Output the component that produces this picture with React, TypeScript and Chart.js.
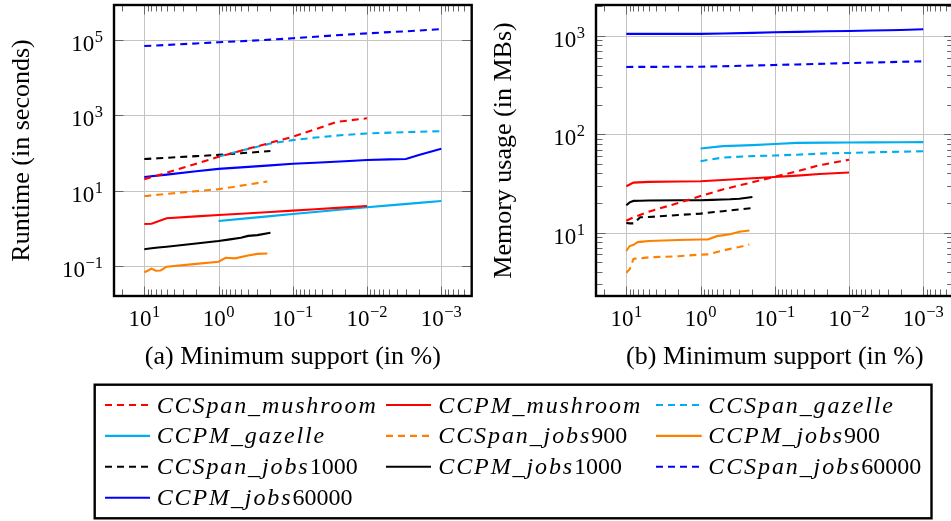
import React, { useEffect, useRef } from "react";
import { Chart, registerables } from "chart.js";
Chart.register(...registerables);

// ---- data: minimum support (%) per dataset ----
const supportMushroom = [10, 8, 5, 2, 1, 0.5, 0.2, 0.1, 0.05, 0.025, 0.01];
const supportGazelle = [1, 0.5, 0.2, 0.1, 0.05, 0.02, 0.01, 0.005, 0.002, 0.001];
const supportJobs900 = [10, 9, 8, 7, 6, 5, 2, 1, 0.8, 0.6, 0.4, 0.3, 0.22];
const supportJobs1000 = [10, 9, 8, 6.5, 5, 2, 1, 0.7, 0.5, 0.4, 0.3, 0.2];
const supportJobs60000 = [10, 5, 2, 1, 0.5, 0.2, 0.1, 0.05, 0.02, 0.01, 0.005, 0.003, 0.002, 0.001];

// ---- runtime (seconds) ----
const rtCCSpanMushroom = [20, 22.8, 30, 52, 79, 115, 187, 270, 425, 675, 835];
const rtCCPMMushroom = [1.3, 1.33, 1.86, 2.08, 2.27, 2.45, 2.72, 2.96, 3.21, 3.5, 3.93];
const rtCCSpanGazelle = [80, 115, 178, 220, 257, 302, 330, 347, 367, 380];
const rtCCPMGazelle = [1.57, 1.78, 2.11, 2.4, 2.72, 3.2, 3.63, 4.07, 4.75, 5.3];
const rtCCSpanJobs900 = [7.2, 7.27, 7.5, 7.7, 7.9, 8.2, 9.7, 11, 11.75, 12.8, 14.6, 15.9, 17.5];
const rtCCPMJobs900 = [0.068, 0.075, 0.085, 0.075, 0.076, 0.096, 0.114, 0.13, 0.165, 0.16, 0.19, 0.21, 0.215];
const rtCCSpanJobs1000 = [69, 70, 71, 72.5, 74.7, 82.6, 89, 93.8, 98.4, 101.6, 106, 113];
const rtCCPMJobs1000 = [0.28, 0.288, 0.295, 0.31, 0.326, 0.395, 0.46, 0.51, 0.56, 0.63, 0.66, 0.76];
const rtCCSpanJobs60000 = [69000, 74000, 81000, 87000, 93000, 102000, 111000, 122000, 138000, 150000, 162000, 170000, 178000, 195000];
const rtCCPMJobs60000 = [23, 26.7, 32.7, 38, 41.6, 46.9, 52, 55, 60.3, 65, 67.6, 69, 89, 130];

// ---- memory usage (MBs) ----
const memCCSpanMushroom = [13.2, 14.3, 16.3, 20, 23.5, 27.5, 32.5, 37, 42, 48.5, 55];
const memCCPMMushroom = [29.6, 32.2, 32.8, 33.1, 33.3, 34.3, 35.7, 36.8, 38, 39.4, 40.8];
const memCCSpanGazelle = [53.2, 58, 60, 60.8, 62, 64, 64.6, 65.5, 66.5, 67.3];
const memCCPMGazelle = [71.6, 75.7, 77.5, 79.5, 81.7, 82.3, 82.6, 82.8, 83, 83.2];
const memCCSpanJobs900 = [3.9, 4.25, 5.4, 5.5, 5.5, 5.6, 5.75, 5.97, 6.0, 6.34, 6.83, 7.15, 7.55];
const memCCPMJobs900 = [6.5, 7.3, 7.5, 8.0, 8.1, 8.2, 8.4, 8.5, 8.5, 9.2, 9.6, 10.2, 10.5];
const memCCSpanJobs1000 = [12.5, 12.4, 12.4, 14.3, 14.4, 15.1, 15.6, 16.1, 16.5, 16.8, 17.2, 17.8];
const memCCPMJobs1000 = [19, 20.3, 21, 21.1, 21.2, 21.3, 21.3, 21.5, 21.7, 21.8, 22.1, 23];
const memCCSpanJobs60000 = [484, 485, 486, 487, 492, 500, 507, 513, 523, 530, 537, 541, 546, 552];
const memCCPMJobs60000 = [1050, 1050, 1050, 1050, 1060, 1075, 1090, 1100, 1115, 1125, 1135, 1142, 1150, 1170];

// ---- tick labels (powers of ten) ----
const xTickExps = [1, 0, -1, -2, -3];
const rtTickExps = [-1, 1, 3, 5];
const memTickExps = [1, 2, 3];

const seriesNames = [
  "CCSpan_mushroom", "CCPM_mushroom", "CCSpan_gazelle", "CCPM_gazelle",
  "CCSpan_jobs900", "CCPM_jobs900", "CCSpan_jobs1000", "CCPM_jobs1000",
  "CCSpan_jobs60000", "CCPM_jobs60000",
];

// ---- styles ----
const RED = "#ff0000";
const CYAN = "#00aeef";
const ORANGE = "#ff8000";
const BLACK = "#000000";
const BLUE = "#0000ff";
const seriesColors = [RED, RED, CYAN, CYAN, ORANGE, ORANGE, BLACK, BLACK, BLUE, BLUE];
const seriesDashed = [true, false, true, false, true, false, true, false, true, false];
const DASH = [7, 5];
const LINE_W = 2.1;
const GRID = "#c4c4c4";
const TICKC = "#666666";
const FONT = '"Liberation Serif", "DejaVu Serif", serif';
const TICK_FONT = 23;
const SUP_FONT = 16.5;
const SUP_RAISE = 9;
const TITLE_FONT = 26;

const X_MIN = Math.pow(10, -3.41);
const X_MAX = Math.pow(10, 1.408);

const runtimeX = [supportMushroom, supportMushroom, supportGazelle, supportGazelle, supportJobs900, supportJobs900, supportJobs1000, supportJobs1000, supportJobs60000, supportJobs60000];
const runtimeY = [rtCCSpanMushroom, rtCCPMMushroom, rtCCSpanGazelle, rtCCPMGazelle, rtCCSpanJobs900, rtCCPMJobs900, rtCCSpanJobs1000, rtCCPMJobs1000, rtCCSpanJobs60000, rtCCPMJobs60000];
const memoryY = [memCCSpanMushroom, memCCPMMushroom, memCCSpanGazelle, memCCPMGazelle, memCCSpanJobs900, memCCPMJobs900, memCCSpanJobs1000, memCCPMJobs1000, memCCSpanJobs60000, memCCPMJobs60000];

function buildDatasets(ys: number[][]) {
  return seriesNames.map((name, i) => ({
    label: name,
    data: runtimeX[i].map((x, j) => ({ x, y: ys[i][j] })),
    borderColor: seriesColors[i],
    backgroundColor: seriesColors[i],
    borderWidth: LINE_W,
    borderDash: seriesDashed[i] ? DASH : [],
    borderCapStyle: "butt",
    pointRadius: 0,
    fill: false,
    tension: 0,
  }));
}

function drawPow(ctx: CanvasRenderingContext2D, e: number, x: number, y: number, align: "center" | "right") {
  const base = "10";
  const sup = e < 0 ? "\u2212" + Math.abs(e) : String(e);
  ctx.font = `${TICK_FONT}px ${FONT}`;
  const wb = ctx.measureText(base).width;
  ctx.font = `${SUP_FONT}px ${FONT}`;
  const ws = ctx.measureText(sup).width;
  const gap = 0.5;
  const total = wb + gap + ws;
  const x0 = align === "center" ? x - total / 2 : x - total;
  ctx.textAlign = "left";
  ctx.textBaseline = "alphabetic";
  ctx.fillStyle = "#000";
  ctx.font = `${TICK_FONT}px ${FONT}`;
  ctx.fillText(base, x0, y);
  ctx.font = `${SUP_FONT}px ${FONT}`;
  ctx.fillText(sup, x0 + wb + gap, y - SUP_RAISE);
}

function minorValues(lo: number, hi: number) {
  const out: number[] = [];
  for (let d = -5; d <= 5; d++) {
    for (let k = 2; k <= 9; k++) {
      const v = k * Math.pow(10, d);
      if (v >= lo && v <= hi) out.push(v);
    }
  }
  return out;
}

interface AxesOpts {
  yExps: number[];
  yMinor: boolean;
  yTitle: string;
  xTitle: string;
  yTitleX: number;
}

function makeAxesPlugin(p: AxesOpts) {
  const MINOR = 6.5;
  const MAJOR = 9.5;
  return {
    id: "pgfAxes",
    beforeDatasetsDraw(chart: any) {
      const { ctx, chartArea: a } = chart;
      const xs = chart.scales.x;
      const ys = chart.scales.y;
      ctx.save();
      ctx.strokeStyle = GRID;
      ctx.lineWidth = 1;
      ctx.beginPath();
      for (const e of xTickExps) {
        const px = Math.round(xs.getPixelForValue(Math.pow(10, e))) + 0.5;
        ctx.moveTo(px, a.top);
        ctx.lineTo(px, a.bottom);
      }
      for (const e of p.yExps) {
        const py = Math.round(ys.getPixelForValue(Math.pow(10, e))) + 0.5;
        ctx.moveTo(a.left, py);
        ctx.lineTo(a.right, py);
      }
      ctx.stroke();
      ctx.restore();
    },
    afterDraw(chart: any) {
      const { ctx, chartArea: a } = chart;
      const xs = chart.scales.x;
      const ys = chart.scales.y;
      ctx.save();
      ctx.strokeStyle = TICKC;
      ctx.lineWidth = 1;
      ctx.beginPath();
      for (const v of minorValues(X_MIN, X_MAX)) {
        const px = Math.round(xs.getPixelForValue(v)) + 0.5;
        ctx.moveTo(px, a.bottom);
        ctx.lineTo(px, a.bottom - MINOR);
        ctx.moveTo(px, a.top);
        ctx.lineTo(px, a.top + MINOR);
      }
      for (const e of xTickExps) {
        const px = Math.round(xs.getPixelForValue(Math.pow(10, e))) + 0.5;
        ctx.moveTo(px, a.bottom);
        ctx.lineTo(px, a.bottom - MAJOR);
        ctx.moveTo(px, a.top);
        ctx.lineTo(px, a.top + MAJOR);
      }
      if (p.yMinor) {
        for (const v of minorValues(ys.min, ys.max)) {
          const py = Math.round(ys.getPixelForValue(v)) + 0.5;
          ctx.moveTo(a.left, py);
          ctx.lineTo(a.left + MINOR, py);
          ctx.moveTo(a.right, py);
          ctx.lineTo(a.right - MINOR, py);
        }
      }
      for (const e of p.yExps) {
        const py = Math.round(ys.getPixelForValue(Math.pow(10, e))) + 0.5;
        ctx.moveTo(a.left, py);
        ctx.lineTo(a.left + MAJOR, py);
        ctx.moveTo(a.right, py);
        ctx.lineTo(a.right - MAJOR, py);
      }
      ctx.stroke();

      ctx.strokeStyle = "#000";
      ctx.lineWidth = 2.4;
      ctx.strokeRect(a.left, a.top, a.right - a.left, a.bottom - a.top);

      for (const e of xTickExps) {
        drawPow(ctx, e, xs.getPixelForValue(Math.pow(10, e)), 326, "center");
      }
      for (const e of p.yExps) {
        drawPow(ctx, e, a.left - 11, ys.getPixelForValue(Math.pow(10, e)) + 11, "right");
      }

      ctx.fillStyle = "#000";
      ctx.font = `${TITLE_FONT}px ${FONT}`;
      ctx.textAlign = "center";
      ctx.textBaseline = "alphabetic";
      ctx.fillText(p.xTitle, (a.left + a.right) / 2, 363.5);
      ctx.translate(p.yTitleX, (a.top + a.bottom) / 2);
      ctx.rotate(-Math.PI / 2);
      ctx.fillText(p.yTitle, 0, 0);
      ctx.restore();
    },
  };
}

function makeConfig(ys: number[][], yMinExp: number, yMaxExp: number, yAxisW: number, padRight: number, axes: AxesOpts): any {
  return {
    type: "line",
    data: { datasets: buildDatasets(ys) },
    options: {
      responsive: false,
      animation: false,
      events: [],
      layout: { padding: { left: 0, right: padRight, top: 5, bottom: 0 } },
      plugins: { legend: { display: false }, tooltip: { enabled: false } },
      elements: { point: { radius: 0 }, line: { tension: 0 } },
      scales: {
        x: {
          type: "logarithmic",
          reverse: true,
          min: X_MIN,
          max: X_MAX,
          grid: { display: false },
          border: { display: false },
          ticks: { display: false },
          afterFit: (s: any) => { s.height = 84; },
        },
        y: {
          type: "logarithmic",
          min: Math.pow(10, yMinExp),
          max: Math.pow(10, yMaxExp),
          grid: { display: false },
          border: { display: false },
          ticks: { display: false },
          afterFit: (s: any) => { s.width = yAxisW; },
        },
      },
    },
    plugins: [makeAxesPlugin(axes)],
  };
}

function ChartCanvas({ left, config }: { left: number; config: () => any }) {
  const ref = useRef<HTMLCanvasElement>(null);
  useEffect(() => {
    const chart = new Chart(ref.current as HTMLCanvasElement, config());
    return () => chart.destroy();
  }, []);
  return (
    <canvas
      ref={ref}
      width={480}
      height={380}
      style={{ position: "absolute", left, top: 0, width: 480, height: 380, display: "block" }}
    />
  );
}

const legendCols = [
  { lx1: 105, lx2: 150, tx: 156.7 },
  { lx1: 386, lx2: 431, tx: 438.3 },
  { lx1: 656, lx2: 701.7, tx: 708.3 },
];

function Legend() {
  return (
    <svg width={951} height={521} style={{ position: "absolute", left: 0, top: 0 }}>
      <rect x={94.7} y={384.7} width={931.5 - 94.7} height={518.3 - 384.7} fill="none" stroke="#000" strokeWidth={2.4} />
      {seriesNames.map((name, i) => {
        const col = legendCols[i % 3];
        const y = 405 + Math.floor(i / 3) * 30.9;
        const m = name.match(/^(.*?)(\d*)$/) as RegExpMatchArray;
        return (
          <g key={name}>
            <line
              x1={col.lx1}
              x2={col.lx2}
              y1={y}
              y2={y}
              stroke={seriesColors[i]}
              strokeWidth={LINE_W}
              strokeDasharray={seriesDashed[i] ? DASH.join(" ") : undefined}
            />
            <text
              x={col.tx}
              y={y + 7.5}
              style={{ fontFamily: "'Liberation Serif', serif", fontSize: "24px", fontStyle: "italic", letterSpacing: "1.9px" }}
              fill="#000"
            >
              {m[1]}
              {m[2] ? <tspan style={{ fontStyle: "normal", letterSpacing: "0px" }}>{m[2]}</tspan> : null}
            </text>
          </g>
        );
      })}
    </svg>
  );
}

export default function App() {
  const leftCfg = () =>
    makeConfig(runtimeY, -1.796, 5.929, 114, 8.3, {
      yExps: rtTickExps,
      yMinor: false,
      yTitle: "Runtime (in seconds)",
      xTitle: "(a) Minimum support (in %)",
      yTitleX: 29,
    });
  const rightCfg = () =>
    makeConfig(memoryY, 0.355, 3.315, 116, 6.3, {
      yExps: memTickExps,
      yMinor: true,
      yTitle: "Memory usage (in MBs)",
      xTitle: "(b) Minimum support (in %)",
      yTitleX: 30.7,
    });
  return (
    <div style={{ position: "absolute", left: 0, top: 0, width: 951, height: 521, overflow: "hidden", background: "#fff" }}>
      <ChartCanvas left={0} config={leftCfg} />
      <ChartCanvas left={480} config={rightCfg} />
      <Legend />
    </div>
  );
}
